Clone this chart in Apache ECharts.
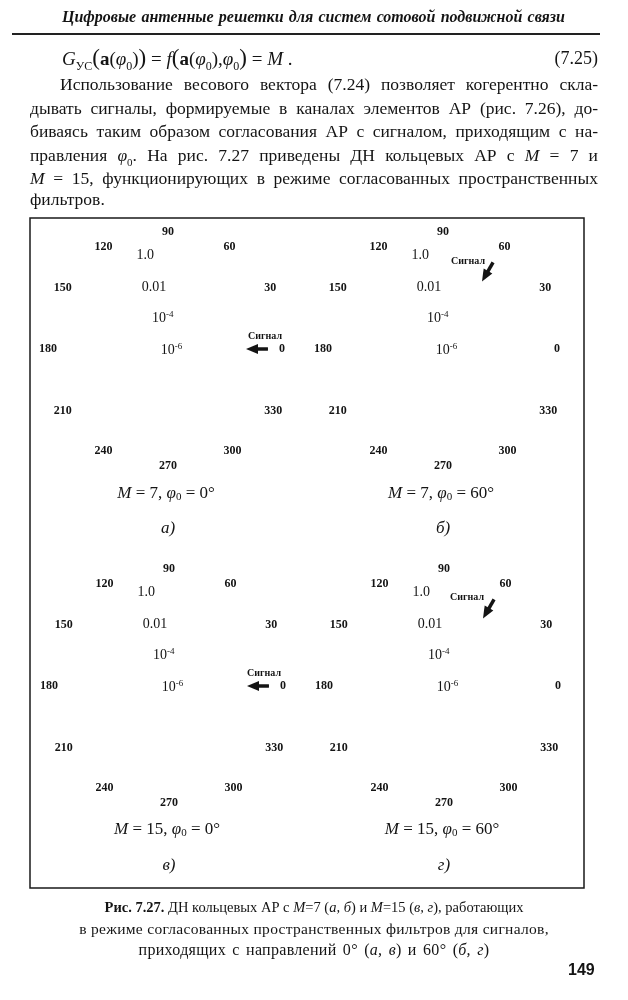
<!DOCTYPE html>
<html><head><meta charset="utf-8">
<script src="https://cdn.jsdelivr.net/npm/echarts@6/dist/echarts.min.js"></script>
<style>
html,body{margin:0;padding:0;background:#fff;}
#page{position:relative;width:628px;height:1000px;overflow:hidden;font-family:"Liberation Serif","DejaVu Serif",serif;color:#141414;}
#chart{position:absolute;left:0;top:0;width:628px;height:1000px;}
.t{position:absolute;white-space:nowrap;line-height:20px;}
.j{text-align:justify;text-align-last:justify;white-space:normal;}
.p{font-size:17.5px;}
.cap{left:0;width:628px;text-align:center;}
</style></head>
<body><div id="page">
<div id="chart"></div>
<div class="t j" style="left:62px;width:503px;top:7px;font-weight:bold;font-style:italic;font-size:16px;">Цифровые антенные решетки для систем сотовой подвижной связи</div>
<div style="position:absolute;left:12px;top:33px;width:588px;height:2px;background:#222"></div>
<div class="t" style="left:62px;top:46px;font-size:19px;line-height:24px;"><i>G</i><sub style="font-size:12px">УС</sub><span style="font-size:23px">(</span><b>a</b>(<i>φ</i><sub style="font-size:12px">0</sub>)<span style="font-size:23px">)</span> = <i>f</i><span style="font-size:23px">(</span><b>a</b>(<i>φ</i><sub style="font-size:12px">0</sub>),<i>φ</i><sub style="font-size:12px">0</sub><span style="font-size:23px">)</span> = <i>M</i> .</div>
<div class="t" style="right:30px;top:48px;font-size:18px;">(7.25)</div>
<div class="t p j" style="left:60px;width:538px;top:74px;">Использование весового вектора (7.24) позволяет когерентно скла-</div>
<div class="t p j" style="left:30px;width:568px;top:98px;">дывать сигналы, формируемые в каналах элементов АР (рис. 7.26), до-</div>
<div class="t p j" style="left:30px;width:568px;top:121px;">биваясь таким образом согласования АР с сигналом, приходящим с на-</div>
<div class="t p j" style="left:30px;width:568px;top:145px;">правления <i>φ</i><sub style="font-size:11px">0</sub>. На рис. 7.27 приведены ДН кольцевых АР с <i>M</i> = 7 и</div>
<div class="t p j" style="left:30px;width:568px;top:168px;"><i>M</i> = 15, функционирующих в режиме согласованных пространственных</div>
<div class="t p" style="left:30px;top:189px;">фильтров.</div>
<div class="t cap" style="top:897px;font-size:14.5px;"><b>Рис. 7.27.</b> ДН кольцевых АР с <i>M</i>=7 (<i>а, б</i>) и <i>M</i>=15 (<i>в, г</i>), работающих</div>
<div class="t cap" style="top:919px;font-size:15.5px;letter-spacing:0.3px;">в режиме согласованных пространственных фильтров для сигналов,</div>
<div class="t cap" style="top:940px;font-size:16px;letter-spacing:0.3px;word-spacing:2px;">приходящих с направлений 0° (<i>а, в</i>) и 60° (<i>б, г</i>)</div>
<div class="t" style="left:568px;top:960px;font-family:'Liberation Sans',Arial,sans-serif;font-weight:bold;font-size:16px;">149</div>
</div>
<script>
// ---- data ----
const angleTicks = [0, 30, 60, 90, 120, 150, 180, 210, 240, 270, 300, 330];
const radialTicks = [-6, -4, -2, 0];           // log10 of gain
const radialLabels = ['10^-6', '10^-4', '0.01', '1.0'];
const panelM = [7, 7, 15, 15];
const panelPhi0 = [0, 60, 0, 60];
const panelLetters = ['а)', 'б)', 'в)', 'г)'];
const signalText = 'Сигнал';
const arrowRadius = [101, 84];                 // arrow tail/head along phi0 (angle polar units)

// ---- layout ----
const centers = [[168, 348], [443, 348], [169, 685], [444, 685]];
const capY = [[494, 529], [494, 529], [830, 866], [830, 866]];
const signalOffset = [[13, -13], [-17, -15], [11, -13], [-19, -16]];

const serif = '"Liberation Serif", "Times New Roman", serif';
const ink = '#141414';

const chart = echarts.init(document.getElementById('chart'), null, {renderer: 'canvas'});

const polar = [], angleAxis = [], radiusAxis = [], series = [], graphic = [];

centers.forEach((c, i) => {
  // angle-label polar
  polar.push({center: [c[0], c[1] + 1], radius: 100});
  angleAxis.push({
    polarIndex: i, type: 'value', min: 0, max: 360, interval: 30, startAngle: 0, clockwise: false,
    axisLine: {show: false}, axisTick: {show: false}, splitLine: {show: false},
    axisLabel: {margin: 11, color: ink, fontFamily: serif, fontWeight: 'bold', fontSize: 12,
      formatter: v => angleTicks.indexOf(v) >= 0 ? String(v) : ''}
  });
  radiusAxis.push({polarIndex: i, type: 'value', min: 0, max: 100, show: false,
    axisLine: {show: false}, axisLabel: {show: false}, splitLine: {show: false}, axisTick: {show: false}});
});
centers.forEach((c, i) => {
  // radial-label polar (log scale ring values)
  polar.push({center: [c[0] + 3.5, c[1] + 2], radius: 98});
  angleAxis.push({polarIndex: 4 + i, type: 'value', min: 0, max: 360, startAngle: 105.5, show: false,
    axisLine: {show: false}, axisLabel: {show: false}, splitLine: {show: false}, axisTick: {show: false}});
  radiusAxis.push({
    polarIndex: 4 + i, type: 'value', min: -6, max: 0, interval: 2,
    axisLine: {show: false}, axisTick: {show: false}, splitLine: {show: false},
    axisLabel: {
      margin: 0, align: 'center', verticalAlign: 'middle', showMinLabel: true, showMaxLabel: true,
      formatter: v => {
        const s = radialLabels[radialTicks.indexOf(v)];
        if (s === undefined) return '';
        if (s.indexOf('10^') === 0) return '{b|10}{s|' + s.slice(3) + '}';
        return '{b|' + s + '}';
      },
      rich: {
        b: {fontFamily: serif, fontSize: 14, color: ink, lineHeight: 16},
        s: {fontFamily: serif, fontSize: 9, color: ink, verticalAlign: 'top', lineHeight: 10}
      }
    }
  });
});

// signal arrows
centers.forEach((c, i) => {
  const phi = panelPhi0[i];
  series.push({
    type: 'line', coordinateSystem: 'polar', polarIndex: i, silent: true, animation: false,
    lineStyle: {color: ink, width: 3.5},
    data: [
      {value: [arrowRadius[0], phi], symbol: 'none'},
      {value: [arrowRadius[1], phi], symbol: 'triangle', symbolSize: [10, 12],
        symbolRotate: phi + 90, itemStyle: {color: ink},
        label: {show: true, formatter: signalText, position: 'inside', offset: signalOffset[i],
          fontFamily: serif, fontWeight: 'bold', fontSize: 10, color: ink}}
    ]
  });
  const cap = `{i|M} = ${panelM[i]}, {i|φ}{sub|0} = ${phi}°`;
  graphic.push({type: 'text', x: c[0] - 2, y: capY[i][0],
    style: {text: cap, textAlign: 'center', textVerticalAlign: 'middle', fill: ink,
      font: '17px ' + serif,
      rich: {i: {fontStyle: 'italic', fontFamily: serif, fontSize: 17, fill: ink},
             sub: {fontFamily: serif, fontSize: 11, fill: ink, verticalAlign: 'bottom', padding: [6, 0, 0, 0]}}}});
  graphic.push({type: 'text', x: c[0], y: capY[i][1],
    style: {text: panelLetters[i], textAlign: 'center', textVerticalAlign: 'middle', fill: ink,
      font: 'italic 17px ' + serif}});
});

graphic.push({type: 'rect', shape: {x: 30, y: 218, width: 554, height: 670},
  style: {fill: 'none', stroke: '#1a1a1a', lineWidth: 1.5}, z: 0});

chart.setOption({
  animation: false,
  backgroundColor: 'transparent',
  polar, angleAxis, radiusAxis, series, graphic
});
</script>
</body></html>
